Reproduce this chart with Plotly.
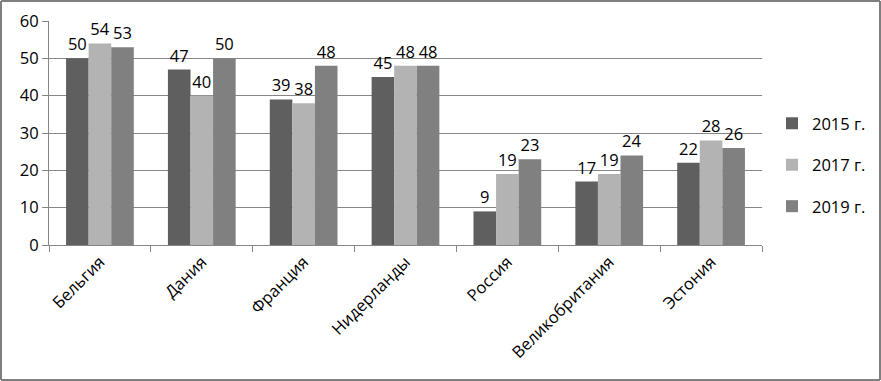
import plotly.graph_objects as go

categories = ["Бельгия", "Дания", "Франция", "Нидерланды", "Россия", "Великобритания", "Эстония"]
series_names = ["2015 г.", "2017 г.", "2019 г."]
v2015 = [50, 47, 39, 45, 9, 17, 22]
v2017 = [54, 40, 38, 48, 19, 19, 28]
v2019 = [53, 50, 48, 48, 23, 24, 26]
colors = ["#5f5f5f", "#b3b3b3", "#808080"]
y_ticks = [0, 10, 20, 30, 40, 50, 60]

W, H = 881, 381
L, R, T, B = 49, 119, 21, 136
pw = W - L - R
ph = H - T - B

font = "Open Sans, Liberation Sans, sans-serif"
fs = 16.5

fig = go.Figure()
for i, (name, vals) in enumerate(zip(series_names, [v2015, v2017, v2019])):
    fig.add_trace(go.Bar(
        x=categories, y=vals, name=name, marker_color=colors[i],
        marker_line_width=0, text=[str(v) for v in vals], textposition="outside",
        textfont=dict(size=fs, color="#000000", family=font), cliponaxis=False,
        legendgroup=name,
    ))

fig.update_layout(
    width=W, height=H,
    margin=dict(l=L, r=R, t=T, b=B, autoexpand=False),
    paper_bgcolor="white", plot_bgcolor="white",
    barmode="group", bargap=0.335, bargroupgap=0,
    font=dict(family=font, size=fs, color="#000000"),
    showlegend=True,
    legend=dict(x=1.014, y=0.357, xanchor="left", yanchor="middle",
                font=dict(size=fs, family=font), tracegroupgap=17,
                itemwidth=30, traceorder="grouped"),
)
fig.update_xaxes(
    type="category", tickangle=-45, showline=True, linecolor="#868686", linewidth=1,
    ticks="outside", tickson="boundaries", ticklen=6, tickcolor="#868686",
    tickfont=dict(size=fs, family=font), showgrid=False, automargin=False,
)
fig.update_yaxes(
    range=[0, 60], tickvals=y_ticks, showline=True, linecolor="#868686", linewidth=1,
    ticks="outside", ticklen=6, tickcolor="#868686", showgrid=True, gridcolor="#868686",
    gridwidth=1, tickfont=dict(size=fs, family=font), zeroline=False, automargin=False,
)

# outer border of the image (four edges, in paper coordinates)
x0 = (1 - L) / pw
x1 = (W - 1 - L) / pw
y0 = -(H - 1 - T - ph) / ph
y1 = (T + ph - 1) / ph
for a, b, c, d in [(x0, y0, x1, y0), (x0, y1, x1, y1), (x0, y0, x0, y1), (x1, y0, x1, y1)]:
    fig.add_shape(type="line", xref="paper", yref="paper", x0=a, y0=b, x1=c, y1=d,
                  line=dict(color="#7f7f7f", width=2), layer="above")

fig.write_html("out.html", config={"displayModeBar": False},
               post_script="document.body.style.margin='0';document.body.style.overflow='hidden';")
